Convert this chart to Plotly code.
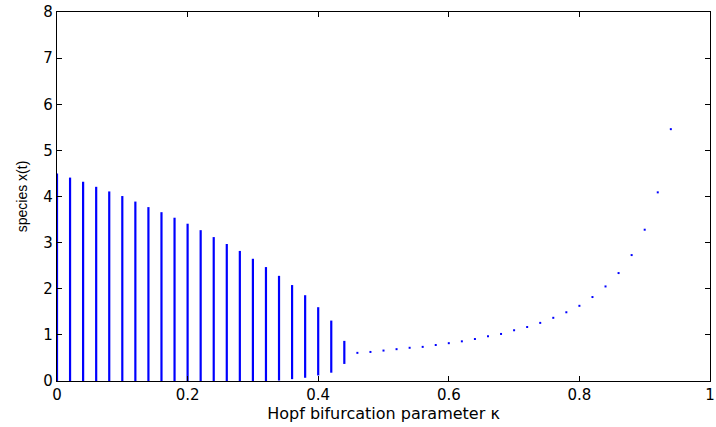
import plotly.graph_objects as go

# Oscillation branch: kappa values with min/max of x(t)
kappa_osc = [0.00, 0.02, 0.04, 0.06, 0.08, 0.10, 0.12, 0.14, 0.16, 0.18, 0.20, 0.22,
             0.24, 0.26, 0.28, 0.30, 0.32, 0.34, 0.36, 0.38, 0.40, 0.42, 0.44]
x_max = [4.50, 4.41, 4.32, 4.21, 4.11, 4.01, 3.89, 3.77, 3.66, 3.54, 3.41, 3.27,
         3.12, 2.97, 2.82, 2.65, 2.47, 2.28, 2.08, 1.86, 1.60, 1.31, 0.87]
x_min = [0.00, 0.00, 0.00, 0.00, 0.00, 0.00, 0.00, 0.00, 0.00, 0.00, 0.00, 0.00,
         0.00, 0.00, 0.00, 0.00, 0.00, 0.01, 0.04, 0.07, 0.12, 0.18, 0.37]

# Steady-state branch
kappa_eq = [0.46, 0.48, 0.50, 0.52, 0.54, 0.56, 0.58, 0.60, 0.62, 0.64, 0.66, 0.68,
            0.70, 0.72, 0.74, 0.76, 0.78, 0.80, 0.82, 0.84, 0.86, 0.88, 0.90, 0.92, 0.94]
x_eq = [0.61, 0.63, 0.66, 0.69, 0.72, 0.74, 0.78, 0.82, 0.86, 0.91, 0.97, 1.02,
        1.10, 1.17, 1.26, 1.37, 1.49, 1.63, 1.82, 2.05, 2.34, 2.73, 3.28, 4.09, 5.46]

xs, ys = [], []
for k, lo, hi in zip(kappa_osc, x_min, x_max):
    xs += [k, k, None]
    ys += [lo, hi, None]

fig = go.Figure()
fig.add_trace(go.Scatter(x=xs, y=ys, mode="lines",
                         line=dict(color="#0000ff", width=2.2),
                         showlegend=False, hoverinfo="skip"))
fig.add_trace(go.Scatter(x=kappa_eq, y=x_eq, mode="markers",
                         marker=dict(color="#0000ff", size=2, symbol="square"),
                         showlegend=False))

TICKFONT = "DejaVu Sans, Liberation Sans, Arial"
YFONT = "Liberation Sans, Arial, Helvetica"
axis_common = dict(showgrid=False, zeroline=False, showline=True, linecolor="#000000",
                   linewidth=1.2, mirror="ticks", ticks="inside", ticklen=5, tickwidth=1.2,
                   tickcolor="#000000", ticklabeloverflow="allow",
                   tickfont=dict(family=TICKFONT, size=15, color="black"))

fig.update_layout(
    template="none",
    width=716, height=427,
    margin=dict(l=57, r=6, t=12, b=46),
    paper_bgcolor="white", plot_bgcolor="white",
    xaxis=dict(range=[0, 1], tickvals=[0, 0.2, 0.4, 0.6, 0.8, 1],
               ticktext=["0", "0.2", "0.4", "0.6", "0.8", "1"],
               title=dict(text="Hopf bifurcation parameter κ", standoff=1,
                          font=dict(family=TICKFONT, size=16, color="black")),
               **axis_common),
    yaxis=dict(range=[0, 8], tickvals=list(range(0, 9)),
               title=dict(text="species x(t)", standoff=12,
                          font=dict(family=YFONT, size=14, color="black")),
               **axis_common),
)

fig.write_html("out.html", config={"displayModeBar": False},
               post_script="document.body.style.margin='0';document.body.style.padding='0';")
